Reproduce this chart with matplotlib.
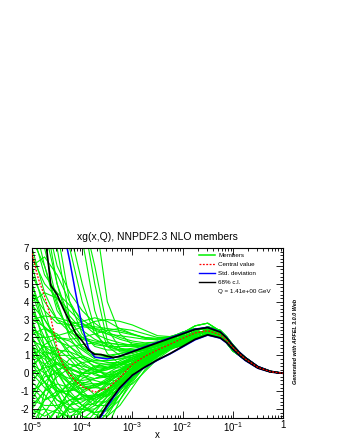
import numpy as np
import matplotlib
matplotlib.use("Agg")
import matplotlib.pyplot as plt
from matplotlib.lines import Line2D
from matplotlib.ticker import LogLocator, MultipleLocator, FixedLocator, NullFormatter

plt.rcParams['font.family'] = ['Liberation Sans', 'DejaVu Sans']
plt.rcParams['mathtext.fontset'] = 'custom'
plt.rcParams['mathtext.rm'] = 'Liberation Sans'
plt.rcParams['mathtext.default'] = 'regular'

# ---------------- data ----------------
title = "xg(x,Q), NNPDF2.3 NLO members"
q_label = "Q = 1.41e+00 GeV"
apfel_label = "Generated with APFEL 3.0.0 Web"

# member grid (log10 x)
log10_x_small = [-5, -4.75, -4.5, -4.25, -4, -3.75, -3.5, -3.25, -3, -2.75, -2.5, -2.25]
log10_x_large = [-2, -1.75, -1.5, -1.25, -1.125, -1, -0.875, -0.75, -0.5, -0.25, 0]

# member values at small x (one row per member)
members_small = [
    [9, 9, 9, 9, 7.5, 3.5, 1.5, 1.0, 1.1, 1.3, 1.55, 1.75],
    [9, 9, 8, 4, 2.2, 1.5, 1.3, 1.3, 1.4, 1.5, 1.65, 1.85],
    [9, 6, 3.5, 2.5, 2.0, 1.8, 1.7, 1.6, 1.6, 1.65, 1.75, 1.9],
    [8, 5.5, 4.5, 3.8, 3.0, 2.5, 2.2, 1.9, 1.7, 1.6, 1.65, 1.75],
    [9, 9, 9, 9, 9, 6, 2.5, 1.4, 1.2, 1.3, 1.5, 1.7],
    [7, 4.5, 3.0, 2.7, 2.6, 2.5, 2.4, 2.3, 2.15, 2.0, 1.95, 2.05],
    [3.0, 3.2, 3.1, 2.9, 2.7, 2.6, 2.5, 2.4, 2.2, 2.0, 1.9, 2.0],
    [5.5, 4.0, 3.0, 2.3, 1.9, 1.7, 1.5, 1.3, 1.2, 1.25, 1.4, 1.6],
    [9, 9, 5, 2.5, 1.5, 1.1, 0.9, 0.9, 1.0, 1.2, 1.4, 1.6],
    [9, 7, 4, 2.0, 1.0, 0.7, 0.7, 0.8, 1.0, 1.2, 1.4, 1.6],
    [2.0, 2.0, 2.1, 2.3, 2.6, 2.9, 3.0, 2.9, 2.7, 2.4, 2.1, 2.05],
    [4.5, 3.5, 2.8, 2.7, 2.9, 3.1, 2.9, 2.5, 2.2, 1.95, 1.85, 1.95],
    [9, 8, 5, 3.0, 2.0, 1.6, 1.5, 1.5, 1.5, 1.55, 1.65, 1.85],
    [6.5, 5.0, 4.2, 3.2, 2.4, 1.9, 1.6, 1.4, 1.3, 1.35, 1.5, 1.7],
    [9, 9, 9, 7, 4, 2.2, 1.5, 1.3, 1.3, 1.4, 1.55, 1.75],
    [9, 9, 9, 9, 9, 9, 4.0, 2.2, 1.6, 1.5, 1.6, 1.8],
    [9, 9, 6.0, 4.5, 3.5, 2.8, 2.3, 2.0, 1.8, 1.7, 1.75, 1.85],
    [6.0, 6.5, 5.5, 4.0, 2.8, 2.2, 1.9, 1.7, 1.55, 1.5, 1.6, 1.8],
    [4.0, 4.5, 4.2, 3.5, 2.8, 2.4, 2.2, 2.1, 2.0, 1.9, 1.9, 2.0],
    [9, 9, 7.0, 3.0, 1.4, 0.9, 0.9, 1.1, 1.3, 1.4, 1.55, 1.75],
    [5.0, 3.0, 1.8, 1.5, 1.6, 1.7, 1.7, 1.6, 1.5, 1.5, 1.6, 1.8],
    [9, 9, 9, 8, 5.0, 2.5, 1.1, 0.5, 0.5, 0.8, 1.2, 1.55],
    [9, 9, 9, 9, 9, 5, 1.8, 1.2, 1.2, 1.3, 1.5, 1.7],
    [3.5, 2.5, 2.0, 1.9, 2.0, 2.2, 2.4, 2.5, 2.4, 2.2, 2.0, 2.0],
    [7.5, 6.0, 3.8, 2.2, 1.4, 1.1, 1.0, 1.1, 1.2, 1.35, 1.5, 1.7],
    [1.0, 0.5, 0.0, -0.3, -0.4, -0.3, 0.0, 0.4, 0.8, 1.1, 1.35, 1.6],
    [2.5, 1.2, 0.3, -0.5, -0.9, -0.8, -0.4, 0.1, 0.6, 1.0, 1.3, 1.55],
    [-1.0, -0.5, 0.2, 0.5, 0.4, 0.2, 0.3, 0.5, 0.8, 1.1, 1.35, 1.6],
    [1.5, 1.0, 0.6, 0.2, 0.0, 0.0, 0.2, 0.5, 0.9, 1.15, 1.4, 1.65],
    [0.5, 1.0, 1.3, 1.2, 0.9, 0.6, 0.5, 0.6, 0.9, 1.15, 1.4, 1.6],
    [3.5, 2.0, 0.8, -0.2, -0.7, -0.8, -0.5, 0.0, 0.5, 0.9, 1.2, 1.5],
    [-2.0, -1.0, -0.2, 0.3, 0.6, 0.7, 0.7, 0.8, 0.9, 1.1, 1.3, 1.55],
    [1.8, 1.5, 1.0, 0.5, 0.2, 0.1, 0.2, 0.4, 0.7, 1.0, 1.3, 1.55],
    [0.0, 0.3, 0.5, 0.3, -0.1, -0.3, -0.2, 0.2, 0.6, 1.0, 1.3, 1.55],
    [3.0, 2.6, 2.0, 1.2, 0.5, 0.1, 0.0, 0.2, 0.6, 1.0, 1.3, 1.55],
    [2.2, 2.5, 2.2, 1.5, 0.8, 0.4, 0.3, 0.5, 0.8, 1.1, 1.35, 1.6],
    [0.8, 1.6, 2.0, 1.8, 1.3, 0.8, 0.6, 0.6, 0.8, 1.05, 1.3, 1.55],
    [-0.5, 0.5, 1.0, 1.0, 0.6, 0.2, -0.1, 0.0, 0.4, 0.8, 1.15, 1.45],
    [4.5, 2.5, 1.0, 0.3, 0.0, 0.0, 0.3, 0.7, 1.0, 1.2, 1.4, 1.6],
    [6.0, 3.5, 1.2, 0.0, -0.6, -0.7, -0.4, 0.1, 0.6, 1.0, 1.3, 1.55],
    [-4, -4, -3.5, -2.5, -1.8, -1.2, -0.6, 0.0, 0.5, 0.9, 1.2, 1.5],
    [0.0, -0.8, -1.5, -2.0, -2.2, -1.8, -1.0, -0.3, 0.3, 0.8, 1.15, 1.45],
    [-4, -3, -2.0, -1.5, -1.4, -1.3, -0.9, -0.3, 0.3, 0.8, 1.15, 1.45],
    [2.0, 0.5, -0.8, -1.8, -2.4, -2.6, -2.0, -1.0, -0.1, 0.6, 1.05, 1.4],
    [-4, -4, -4, -4, -3.5, -2.8, -1.8, -0.8, 0.1, 0.7, 1.1, 1.45],
    [-1.5, -1.8, -1.8, -1.5, -1.1, -0.7, -0.3, 0.1, 0.5, 0.85, 1.2, 1.5],
    [1.0, -0.5, -1.5, -1.8, -1.6, -1.2, -0.7, -0.2, 0.3, 0.75, 1.1, 1.45],
    [-3, -2.2, -1.2, -0.6, -0.5, -0.6, -0.5, -0.1, 0.4, 0.8, 1.15, 1.5],
    [-4, -4, -4, -3.0, -2.0, -1.4, -1.0, -0.5, 0.1, 0.65, 1.1, 1.45],
    [0.5, 0.0, -0.8, -1.3, -1.5, -1.4, -1.0, -0.4, 0.2, 0.7, 1.1, 1.45],
    [-2.2, -2.0, -2.2, -2.4, -2.2, -1.6, -0.9, -0.3, 0.3, 0.8, 1.15, 1.5],
    [-4, -4, -4, -4, -4, -4, -3.0, -1.5, -0.3, 0.5, 1.0, 1.4],
    [1.5, 0.0, -1.0, -1.0, -0.6, -0.3, -0.1, 0.2, 0.6, 0.95, 1.25, 1.55],
    [-0.5, -1.2, -2.0, -2.8, -3.0, -2.5, -1.6, -0.7, 0.1, 0.65, 1.1, 1.45],
    [-3.5, -2.8, -2.0, -1.0, -0.3, 0.1, 0.3, 0.5, 0.8, 1.05, 1.3, 1.55],
    [4.0, 1.5, -0.5, -1.5, -2.0, -2.0, -1.5, -0.7, 0.1, 0.7, 1.1, 1.45],
    [-1.0, -2.0, -3.0, -3.5, -3.0, -2.2, -1.3, -0.5, 0.2, 0.7, 1.1, 1.45],
    [2.5, 2.0, 1.0, -0.2, -1.2, -1.5, -1.2, -0.5, 0.2, 0.75, 1.15, 1.5],
    [-4, -4, -4, -4, -4, -3.5, -2.4, -1.2, -0.2, 0.5, 1.0, 1.4],
    [-2.5, -1.5, -1.0, -1.2, -1.8, -2.2, -2.0, -1.2, -0.3, 0.5, 1.0, 1.4],
    [3.0, 1.0, -1.0, -2.5, -3.2, -3.0, -2.2, -1.2, -0.3, 0.45, 1.0, 1.4],
    [-4, -3.5, -2.5, -2.0, -2.0, -2.2, -2.1, -1.5, -0.5, 0.4, 0.95, 1.4],
    [0.2, -0.5, -1.0, -1.0, -0.8, -0.8, -0.9, -0.6, 0.0, 0.6, 1.05, 1.45],
    [5.0, 2.5, 0.2, -1.2, -1.8, -1.7, -1.2, -0.5, 0.2, 0.7, 1.1, 1.45],
    [-1.8, -1.0, -0.6, -0.8, -1.2, -1.3, -1.0, -0.4, 0.2, 0.7, 1.1, 1.45],
    [-4, -4, -3.0, -1.8, -1.0, -0.6, -0.6, -0.8, -0.6, 0.1, 0.8, 1.3],
    [1.2, 0.8, 0.0, -1.0, -1.8, -2.3, -2.4, -1.8, -0.8, 0.2, 0.9, 1.35],
    [-4, -1.0, 1.0, 1.5, 1.0, 0.3, -0.2, -0.2, 0.3, 0.8, 1.15, 1.5],
    [-3, -1.5, 0.0, 0.8, 0.9, 0.6, 0.3, 0.3, 0.6, 0.95, 1.25, 1.55],
    [1.0, 1.5, 1.4, 0.8, 0.0, -0.7, -1.0, -0.8, -0.2, 0.5, 1.0, 1.4],
    [-2.0, -2.4, -2.0, -1.0, 0.0, 0.4, 0.5, 0.5, 0.7, 1.0, 1.3, 1.55],
    [0.5, -0.5, -1.8, -2.6, -2.6, -2.0, -1.3, -0.6, 0.1, 0.65, 1.1, 1.45],
    [2.8, 1.5, 0.5, 0.0, -0.2, -0.4, -0.6, -0.5, 0.0, 0.6, 1.05, 1.45],
    [-1.2, 0.0, 0.6, 0.2, -0.6, -1.2, -1.3, -0.9, -0.2, 0.5, 1.0, 1.4],
    [-4, -4, -2.5, -0.8, 0.0, 0.3, 0.4, 0.5, 0.7, 1.0, 1.3, 1.55],
    [3.8, 3.0, 2.0, 1.0, 0.3, -0.1, -0.2, 0.0, 0.4, 0.85, 1.2, 1.5],
    [-0.8, -1.5, -1.2, -0.5, 0.0, 0.0, -0.3, -0.5, -0.2, 0.4, 0.95, 1.4],
    [1.6, 0.2, -1.2, -2.2, -2.0, -1.2, -0.5, 0.0, 0.5, 0.85, 1.2, 1.5],
    [-3.0, -3.0, -2.6, -1.8, -1.3, -1.2, -1.2, -0.9, -0.2, 0.5, 1.0, 1.4],
    [0.3, 1.2, 1.0, 0.0, -1.0, -1.6, -1.6, -1.0, -0.2, 0.5, 1.0, 1.4],
    [-1.5, -0.2, 0.0, -0.6, -1.2, -1.4, -1.1, -0.6, 0.0, 0.6, 1.05, 1.45],
    [2.0, 1.0, 0.2, -0.6, -1.3, -1.8, -1.8, -1.2, -0.4, 0.4, 0.95, 1.4],
]

# member values at large x: a handful of shapes
large_x_shapes = {
    "A": [1.95, 2.25, 2.38, 2.15, 1.85, 1.45, 1.1, 0.8, 0.33, 0.09, 0],
    "B": [2.15, 2.45, 2.55, 2.3, 1.95, 1.5, 1.15, 0.83, 0.35, 0.1, 0],
    "C": [1.65, 2.0, 2.2, 2.05, 1.78, 1.42, 1.08, 0.78, 0.31, 0.08, 0],
    "D": [2.25, 2.65, 2.8, 2.35, 1.9, 1.45, 1.1, 0.8, 0.33, 0.09, 0],
    "E": [1.55, 1.95, 2.25, 2.2, 1.9, 1.55, 1.15, 0.82, 0.32, 0.08, 0],
    "F": [2.05, 2.3, 2.35, 2.05, 1.75, 1.35, 1.05, 0.78, 0.36, 0.11, 0],
    "G": [1.85, 2.15, 2.45, 2.35, 2.0, 1.55, 1.18, 0.88, 0.37, 0.1, 0],
    "H": [2.3, 2.5, 2.45, 2.1, 1.75, 1.38, 1.05, 0.75, 0.3, 0.08, 0],
    "I": [1.75, 2.1, 2.35, 2.25, 1.7, 1.25, 1.0, 0.74, 0.31, 0.08, 0],
    "J": [2.0, 2.35, 2.6, 2.4, 2.05, 1.6, 1.2, 0.85, 0.34, 0.09, 0],
}
members_large_shape = list("AJBGFDHIAGDBJFAHBGDFAEIHJ"
                           "ACGFIECACEGFCAE"
                           "CEACEFIACEGCJEBACFECICAEGCE"
                           "CAEFCECGACIECAE")

central_log10_x = [-5, -4.875, -4.75, -4.625, -4.5, -4.375, -4.25, -4.125, -4, -3.75, -3.5,
                   -3.25, -3, -2.75, -2.5, -2.25, -2, -1.75, -1.5, -1.25, -1.125, -1,
                   -0.875, -0.75, -0.5, -0.25, 0]
central = [6.7, 5.3, 4.3, 3.1, 1.4, 0.45, -0.05, -0.45, -0.75, -1.05, -0.85,
           -0.25, 0.5, 0.95, 1.3, 1.62, 1.95, 2.25, 2.38, 2.15, 1.85, 1.45,
           1.1, 0.8, 0.33, 0.09, 0]

std_up_log10_x = [-4.375, -4.25, -4.125, -4, -3.875, -3.75, -3.5, -3.25, -3, -2.75, -2.5,
                  -2.25, -2, -1.75, -1.5, -1.25, -1.125, -1, -0.875, -0.75, -0.5, -0.25, 0]
std_up = [8.0, 6.3, 4.4, 2.6, 1.4, 0.9, 0.8, 0.95, 1.22, 1.48, 1.73,
          1.98, 2.23, 2.47, 2.57, 2.32, 2.0, 1.57, 1.2, 0.88, 0.38, 0.11, 0]

std_dn_log10_x = [-4, -3.75, -3.5, -3.25, -3, -2.75, -2.5, -2.25, -2, -1.75, -1.5,
                  -1.25, -1.125, -1, -0.875, -0.75, -0.5, -0.25, 0]
std_dn = [-4.5, -3.0, -1.85, -0.85, -0.12, 0.33, 0.73, 1.08, 1.47, 1.87, 2.13,
          1.96, 1.7, 1.33, 1.0, 0.71, 0.28, 0.07, 0]

cl_up_log10_x = [-4.75, -4.625, -4.5, -4.375, -4.25, -4.125, -4, -3.875, -3.75, -3.625,
                 -3.5, -3.375, -3.25, -3, -2.75, -2.5, -2.25, -2, -1.75, -1.5, -1.25,
                 -1.125, -1, -0.875, -0.75, -0.5, -0.25, 0]
cl_up = [8.0, 4.9, 4.4, 3.6, 2.9, 2.2, 1.8, 1.3, 1.05, 1.05,
         0.95, 0.88, 0.95, 1.2, 1.45, 1.7, 1.95, 2.2, 2.45, 2.55, 2.3,
         1.98, 1.55, 1.18, 0.87, 0.37, 0.11, 0]

cl_dn_log10_x = [-4, -3.75, -3.5, -3.25, -3, -2.75, -2.5, -2.25, -2, -1.75, -1.5,
                 -1.25, -1.125, -1, -0.875, -0.75, -0.5, -0.25, 0]
cl_dn = [-4.5, -2.9, -1.75, -0.8, -0.1, 0.35, 0.75, 1.1, 1.5, 1.9, 2.15,
         1.98, 1.72, 1.35, 1.02, 0.73, 0.29, 0.07, 0]

x_tick_exponents = [-5, -4, -3, -2, -1, 0]
x_tick_labels = ["$10^{-5}$", "$10^{-4}$", "$10^{-3}$", "$10^{-2}$", "$10^{-1}$", "1"]
y_ticks = [-2, -1, 0, 1, 2, 3, 4, 5, 6, 7]

GREEN = '#00f000'
RED = '#ff0000'
BLUE = '#0000ff'

# ---------------- plot ----------------
fig = plt.figure(figsize=(3.4, 4.4), dpi=100)
ax = fig.add_axes([32 / 340, 22 / 440, 251 / 340, 170 / 440])

x_members = 10 ** np.array(log10_x_small + log10_x_large)
for small, key in zip(members_small, members_large_shape):
    ax.plot(x_members, small + large_x_shapes[key], color=GREEN, lw=0.8, zorder=1)

ax.plot(10 ** np.array(std_up_log10_x), std_up, color=BLUE, lw=1.1, zorder=2)
ax.plot(10 ** np.array(std_dn_log10_x), std_dn, color=BLUE, lw=1.1, zorder=2)
ax.plot(10 ** np.array(cl_up_log10_x), cl_up, color='black', lw=1.2, zorder=3)
ax.plot(10 ** np.array(cl_dn_log10_x), cl_dn, color='black', lw=1.2, zorder=3)
ax.plot(10 ** np.array(central_log10_x), central, color=RED, lw=0.9,
        ls=(0, (1.5, 1.2)), zorder=4)

ax.set_xscale('log')
ax.set_xlim(1e-5, 1)
ax.set_ylim(-2.5, 7)

ax.xaxis.set_major_locator(FixedLocator([10.0 ** e for e in x_tick_exponents]))
ax.set_xticklabels(x_tick_labels)
ax.xaxis.set_minor_locator(LogLocator(base=10, subs=np.arange(2, 10), numticks=20))
ax.xaxis.set_minor_formatter(NullFormatter())
ax.set_yticks(y_ticks)
ax.set_yticklabels([str(v) for v in y_ticks])
ax.yaxis.set_minor_locator(MultipleLocator(0.2))

ax.tick_params(which='both', direction='in', top=True, right=True, width=0.6,
               labelsize=7, pad=2)
ax.tick_params(axis='x', which='both', pad=1.5)
ax.tick_params(which='major', length=5)
ax.tick_params(which='minor', length=2.5)
for s in ax.spines.values():
    s.set_linewidth(0.8)

ax.set_xlabel('x', fontsize=7, labelpad=-3)
ax.set_title(title, fontsize=7.5, pad=6)

handles = [
    Line2D([], [], color=GREEN, lw=1.1),
    Line2D([], [], color=RED, lw=0.9, ls=(0, (1.5, 1.2))),
    Line2D([], [], color=BLUE, lw=1.0),
    Line2D([], [], color='black', lw=1.0),
    Line2D([], [], color='none'),
]
labels = ["Members", "Central value", "Std. deviation", "68% c.l.", q_label]
ax.legend(handles, labels, loc='upper left', bbox_to_anchor=(0.665, 0.97),
          frameon=False, fontsize=4.5, handlelength=2.6, handletextpad=0.5,
          labelspacing=0.55, borderpad=0, borderaxespad=0)

fig.text(0.868, 0.225, apfel_label, rotation=90, ha='center', va='center',
         fontsize=4, fontweight='bold', fontstyle='italic')

fig.savefig('out.png', dpi=100)
